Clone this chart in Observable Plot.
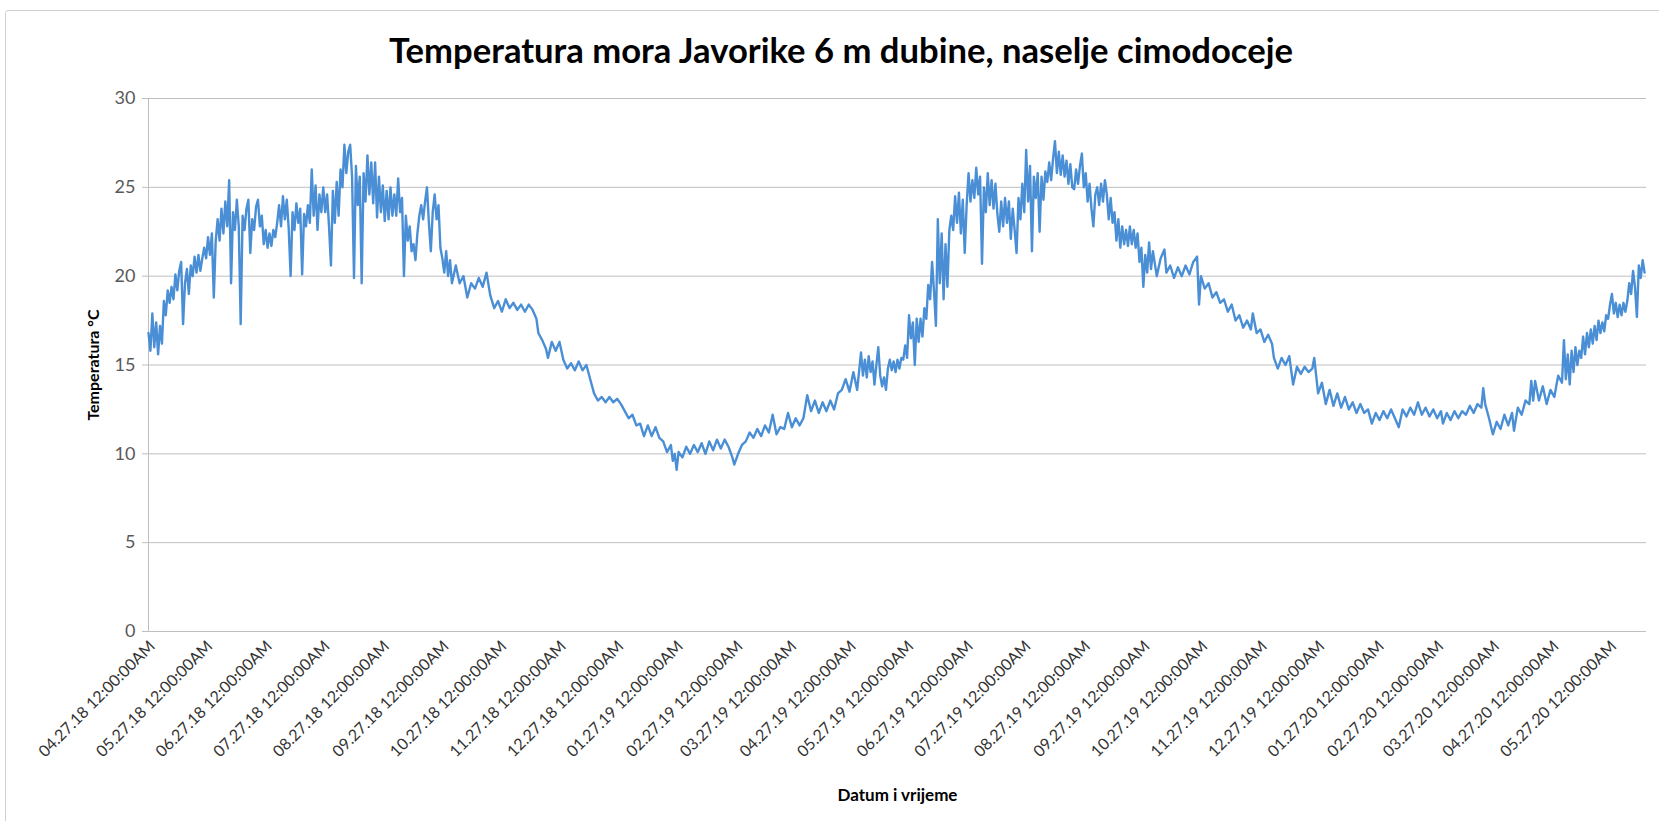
<!DOCTYPE html>
<html><head><meta charset="utf-8">
<script src="https://cdn.jsdelivr.net/npm/d3@7"></script>
<script src="https://cdn.jsdelivr.net/npm/@observablehq/plot@0.6"></script>
<style>
html,body{margin:0;padding:0;background:#fff;}
#page{position:relative;width:1659px;height:821px;overflow:hidden;background:#fff;font-family:Lato,"Open Sans",sans-serif;}
#frame{position:absolute;left:5px;top:10px;width:1700px;height:900px;border:1.5px solid #d0d0d0;border-radius:3px;box-sizing:border-box;}
#title{position:absolute;left:0;top:0;}
#chart{position:absolute;left:0;top:80px;}
</style></head><body>
<div id="page"><div id="frame"></div><svg id="title" width="1659" height="80"></svg><div id="chart"></div></div>
<script>
const titleText = "Temperatura mora Javorike 6 m dubine, naselje cimodoceje";
const yTitle = "Temperatura °C";
const xTitle = "Datum i vrijeme";
const yTicks = [0, 5, 10, 15, 20, 25, 30];
const tickLabels = [
  "04.27.18 12:00:00AM","05.27.18 12:00:00AM","06.27.18 12:00:00AM","07.27.18 12:00:00AM",
  "08.27.18 12:00:00AM","09.27.18 12:00:00AM","10.27.18 12:00:00AM","11.27.18 12:00:00AM",
  "12.27.18 12:00:00AM","01.27.19 12:00:00AM","02.27.19 12:00:00AM","03.27.19 12:00:00AM",
  "04.27.19 12:00:00AM","05.27.19 12:00:00AM","06.27.19 12:00:00AM","07.27.19 12:00:00AM",
  "08.27.19 12:00:00AM","09.27.19 12:00:00AM","10.27.19 12:00:00AM","11.27.19 12:00:00AM",
  "12.27.19 12:00:00AM","01.27.20 12:00:00AM","02.27.20 12:00:00AM","03.27.20 12:00:00AM",
  "04.27.20 12:00:00AM","05.27.20 12:00:00AM"
];
const xDomain = ["2018-04-25", "2020-06-13"];

// sampled days per month
const months = ["2018-04","2018-05","2018-06","2018-07","2018-08","2018-09","2018-10","2018-11","2018-12",
  "2019-01","2019-02","2019-03","2019-04","2019-05","2019-06","2019-07","2019-08","2019-09","2019-10","2019-11","2019-12",
  "2020-01","2020-02","2020-03","2020-04","2020-05","2020-06"];
const D31 = [1,2,3,4,5,6,7,8,9,10,11,12,13,14,15,16,17,18,19,20,21,22,23,24,25,26,27,28,29,30,31];
const D30 = [1,2,3,4,5,6,7,8,9,10,11,12,13,14,15,16,17,18,19,20,21,22,23,24,25,26,27,28,29,30];
const sampleDays = [
  [25,26,27,28,29,30],
  D31, D30, D31, D31, D30,
  [2,4,6,8,10,12,14,16,18,20,22,24,26,28,30],
  [1,3,5,7,9,11,13,14,16,18,19,21,23,25,27,29],
  [1,3,5,7,9,11,13,15,17,19,21,23,25,27,29,31],
  [2,4,6,8,10,12,14,16,18,20,22,23,24,25,26,28,30],
  [1,3,5,7,9,11,13,15,17,19,21,23,24,26,28],
  [2,4,6,8,10,12,14,16,18,20,22,24,26,28,30],
  [1,3,5,7,9,11,13,15,17,19,21,23,25,27,29],
  D31, D30, D31, D31, D30,
  [2,4,6,7,9,11,13,15,17,19,21,23,24,25,27,29,31],
  [2,4,6,8,10,12,14,16,18,20,21,23,25,27,29],
  [1,2,4,6,8,10,12,14,16,18,20,22,23,25,27,29,31],
  [2,4,6,8,10,12,14,16,18,20,22,24,26,28,30],
  [1,3,5,7,9,11,13,15,17,19,21,23,25,27,28],
  [1,3,5,7,9,11,13,15,17,19,20,21,23,25,27,29,31],
  [2,4,5,7,9,11,13,14,15,16,18,20,22,24,26,28,30],
  D31,
  [1,2,3,4,5,6,7,8,9,10,11,12]
];
// temperature (°C) per month, same order as sampleDays
const temps = [
  [16.8,15.8,17.9,16.0,17.4,15.6],
  [17.2,16.2,18.6,17.8,19.2,18.5,19.4,18.7,20.1,19.2,20.3,20.8,17.3,19.6,20.4,19.0,20.6,20.0,21.1,20.2,21.2,20.3,21.0,21.6,21.0,22.2,21.2,22.4,18.8,22.0,23.2],
  [22.0,23.8,22.4,24.2,22.8,25.4,19.6,23.6,22.6,24.3,22.8,17.3,23.4,22.6,23.8,24.3,21.3,23.2,22.6,23.9,24.3,22.8,23.4,21.8,22.6,21.6,22.4,21.7,22.6,22.2],
  [23.0,24.0,22.8,24.5,23.2,24.3,22.7,20.0,23.6,22.6,24.1,23.0,23.8,20.1,23.5,22.8,24.0,23.0,26.0,23.4,25.1,22.6,24.6,23.6,25.0,23.6,24.6,22.8,20.6,24.8,23.0],
  [25.3,23.4,26.0,25.0,27.4,25.8,27.0,27.4,25.6,19.9,26.2,24.0,25.6,19.6,25.8,24.2,26.8,24.6,26.4,24.1,26.4,23.3,25.6,23.6,25.1,23.1,24.8,23.2,25.0,23.4,24.6],
  [23.4,25.5,23.6,24.4,20.0,23.4,22.0,22.8,21.4,21.8,20.9,22.4,23.4,24.0,23.2,24.2,25.0,23.0,21.4,23.6,24.6,23.2,24.0,21.6,21.0,20.2,21.4,20.0,20.9,19.6],
  [20.6,19.6,20.0,18.8,19.6,19.3,19.9,19.4,20.2,18.9,18.2,18.6,18.0,18.7,18.2],
  [18.5,18.1,18.4,18.0,18.4,18.1,17.6,16.8,16.4,15.9,15.4,16.3,15.8,16.3,15.3,14.8],
  [15.1,14.7,15.2,14.7,15.0,14.2,13.4,13.0,13.2,12.9,13.2,12.9,13.1,12.8,12.4,12.0],
  [12.2,11.6,11.7,11.0,11.6,11.0,11.5,10.9,10.7,10.1,10.5,9.6,10.0,9.1,10.1,9.8,10.4],
  [10.0,10.5,10.1,10.6,10.0,10.7,10.2,10.8,10.3,10.8,10.4,9.8,9.4,10.0,10.5],
  [10.7,11.2,10.9,11.4,11.0,11.6,11.2,12.2,11.1,11.5,11.4,12.3,11.5,12.0,11.6],
  [12.0,13.3,12.4,13.0,12.3,12.9,12.4,13.0,12.5,13.4,13.6,14.2,13.5,14.6,13.6],
  [15.7,14.4,15.3,14.3,15.5,14.6,15.2,13.9,15.0,16.0,14.4,13.8,14.3,13.6,14.8,15.3,14.7,15.2,14.6,15.3,14.8,15.4,15.3,16.1,15.4,17.8,16.5,17.4,15.0,17.6,16.3],
  [17.6,16.6,18.2,17.6,19.5,18.7,20.8,19.2,17.2,23.2,19.6,22.4,18.7,21.8,19.4,22.6,23.4,22.6,24.5,23.0,24.7,22.4,24.3,21.3,24.0,25.8,24.2,25.4,24.4,26.1],
  [24.6,25.6,20.7,25.0,23.6,25.8,24.0,25.4,23.8,25.2,23.5,22.5,24.2,22.8,24.4,23.0,24.2,22.1,23.8,22.6,21.3,24.4,23.2,25.2,23.6,27.1,24.2,26.2,21.4,25.6,24.4],
  [25.8,22.5,25.6,24.3,25.9,25.3,26.4,25.4,26.6,27.6,25.8,27.0,25.7,26.8,25.6,26.5,25.2,26.3,25.0,24.9,26.0,25.2,26.2,26.9,25.0,25.8,24.2,25.2,23.8,22.8,24.6],
  [25.0,24.0,25.2,24.2,25.4,24.6,23.2,24.4,23.0,23.6,22.0,23.2,21.6,22.8,21.8,22.6,21.7,22.8,21.8,22.6,21.6,22.4,20.8,21.6,19.4,21.2,20.2,21.9,20.4,21.4],
  [20.0,21.0,21.5,20.2,20.6,19.9,20.5,20.0,20.6,20.1,20.8,21.1,18.4,20.0,19.3,19.6,18.8],
  [19.1,18.5,18.7,18.0,18.4,17.5,17.8,17.1,17.5,17.0,17.9,16.8,17.0,16.3,16.7],
  [16.2,15.4,14.8,15.4,15.0,15.5,13.9,14.9,14.5,14.9,14.6,14.8,15.4,13.4,14.0,12.8,13.6],
  [12.7,13.4,12.6,13.2,12.5,12.9,12.3,12.8,12.3,12.5,11.7,12.3,11.9,12.4,12.0],
  [12.5,12.0,11.5,12.5,12.1,12.6,12.2,12.9,12.2,12.6,12.1,12.5,12.0,12.4,11.7],
  [12.3,11.9,12.4,12.0,12.4,12.2,12.7,12.3,12.8,12.6,13.7,12.8,12.0,11.1,11.8,11.4,12.2],
  [11.6,12.3,11.3,12.6,12.2,13.0,12.8,14.1,13.0,14.1,13.0,13.8,12.8,13.6,13.2,14.4,14.0],
  [16.4,14.2,15.6,13.9,15.8,14.6,16.0,15.0,15.8,15.4,16.6,15.6,16.8,16.0,17.0,16.2,17.2,16.4,17.5,16.8,17.4,16.9,17.8,17.6,18.4,19.0,17.9,18.5,17.7,18.4,17.8],
  [18.5,18.0,18.6,19.6,19.0,20.3,19.4,17.7,20.6,19.9,20.9,20.2]
];

// build table
const data = [];
months.forEach((m, i) => {
  if (sampleDays[i].length !== temps[i].length) throw new Error("length mismatch in " + m + ": " + sampleDays[i].length + " vs " + temps[i].length);
  sampleDays[i].forEach((d, j) => {
    data.push({date: new Date(m + "-" + String(d).padStart(2, "0") + "T00:00:00Z"), temp: temps[i][j]});
  });
});
const tickDates = tickLabels.map(s => new Date(Date.UTC(2000 + +s.slice(6, 8), +s.slice(0, 2) - 1, +s.slice(3, 5))));
const labelByTime = new Map(tickDates.map((d, i) => [+d, tickLabels[i]]));

// title
const tsvg = d3.select("#title");
tsvg.append("text").attr("x", 841).attr("y", 63).attr("text-anchor", "middle")
  .attr("font-family", "Lato, sans-serif").attr("font-weight", 700).attr("font-size", 34)
  .attr("textLength", 904).attr("lengthAdjust", "spacingAndGlyphs").attr("fill", "#000").text(titleText);

const chart = Plot.plot({
  width: 1659, height: 741,
  marginLeft: 148, marginRight: 13, marginTop: 18, marginBottom: 190,
  style: {fontFamily: "Lato, sans-serif", fontSize: "16px", color: "#404040", background: "transparent", overflow: "visible"},
  x: {type: "utc", domain: xDomain.map(s => new Date(s + "T00:00:00Z"))},
  y: {domain: [0, 30]},
  marks: [
    Plot.gridY(yTicks, {stroke: "#bfbfbf", strokeOpacity: 1}),
    Plot.ruleX([new Date(xDomain[0] + "T00:00:00Z")], {stroke: "#bdbdbd"}),
    Plot.axisY(yTicks, {tickSize: 6, tickPadding: 7, stroke: "#bdbdbd", fill: "#595959", fontSize: 18, label: null}),
    Plot.axisX(tickDates, {tickSize: 0, tickRotate: -45, tickPadding: 12, fill: "#333333", fontSize: 16,
      tickFormat: d => labelByTime.get(+d), label: null}),
    Plot.line(data, {x: "date", y: "temp", stroke: "#4a8fd6", strokeWidth: 2.4, strokeLinejoin: "round"}),
    Plot.text([yTitle], {text: d => d, frameAnchor: "left", dx: -55, rotate: -90, textAnchor: "middle", lineAnchor: "middle",
      fontWeight: "bold", fontSize: 16, fill: "#000"}),
    Plot.text([xTitle], {text: d => d, frameAnchor: "bottom", dy: 164, textAnchor: "middle", lineAnchor: "middle",
      fontWeight: "bold", fontSize: 17, fill: "#000"})
  ]
});
document.getElementById("chart").appendChild(chart);
</script>
</body></html>
